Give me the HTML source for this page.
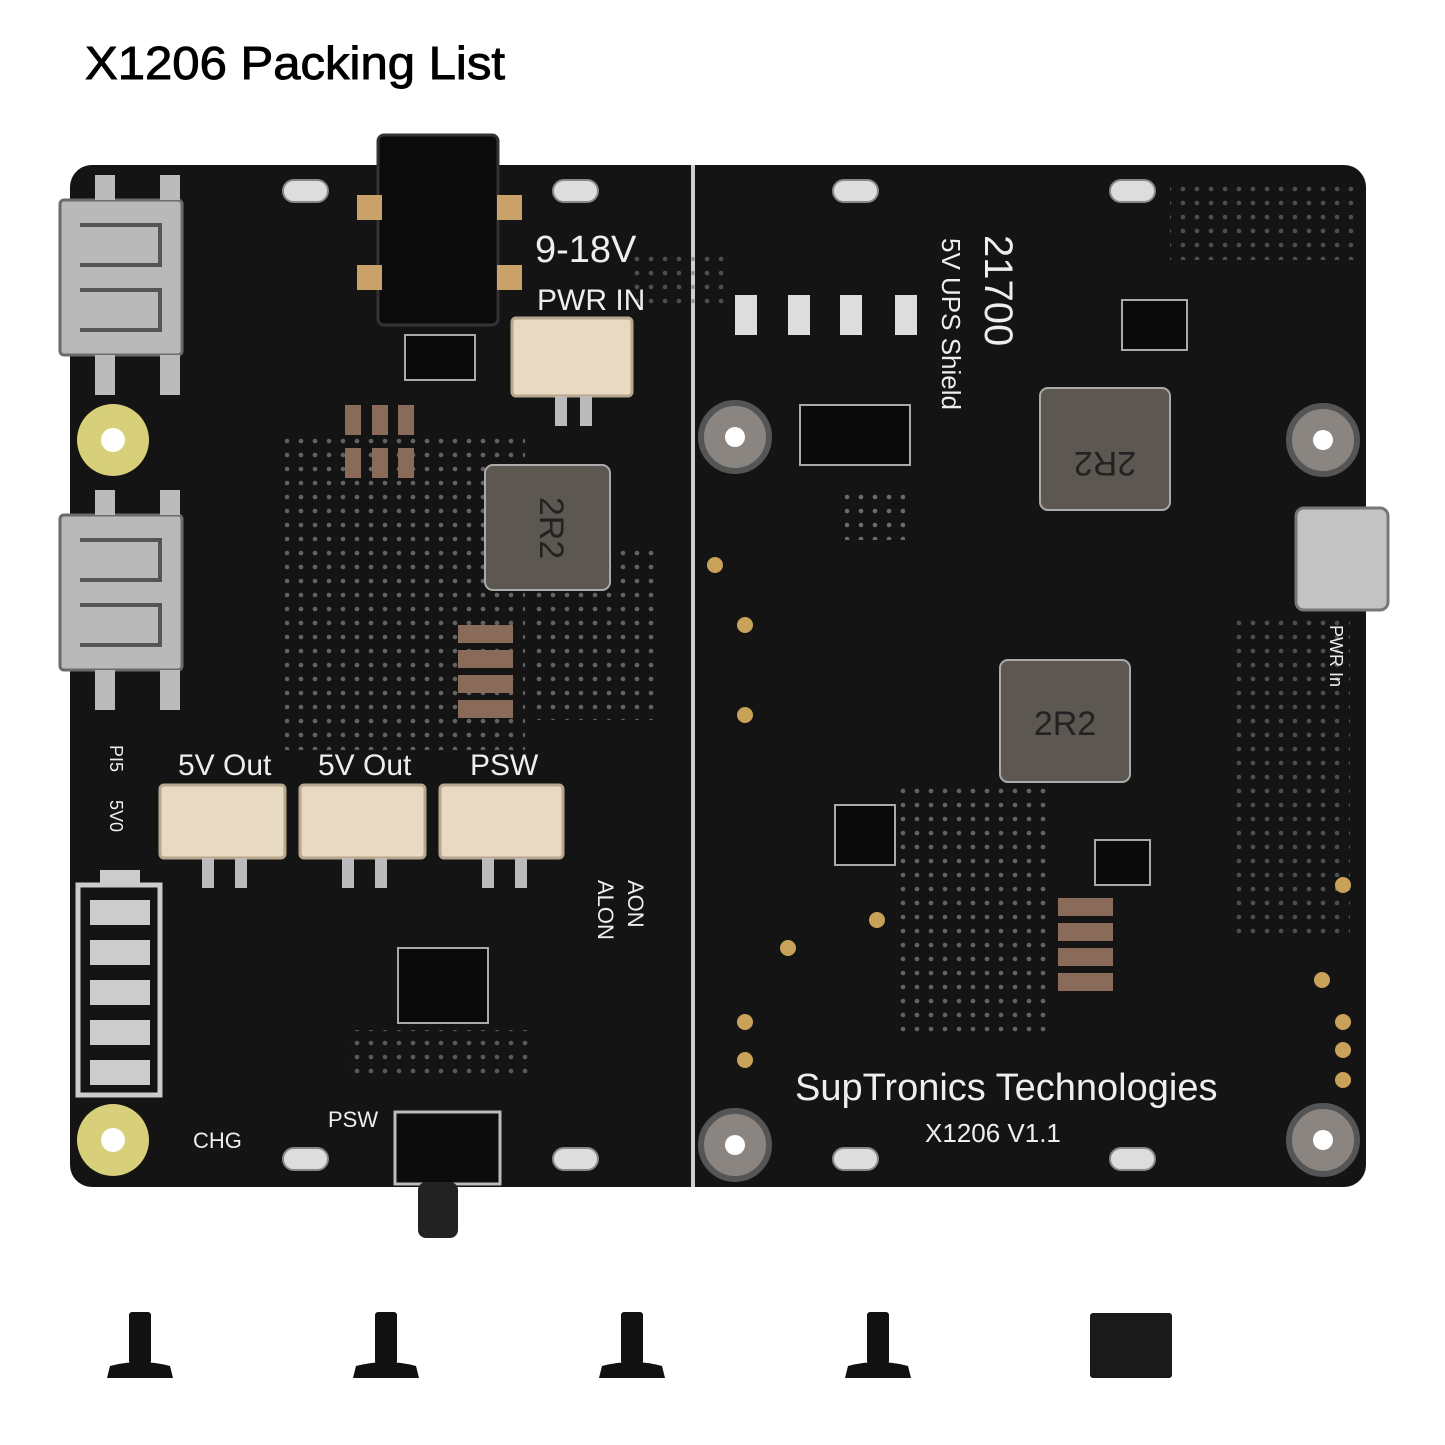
<!DOCTYPE html>
<html><head><meta charset="utf-8"><style>
html,body{margin:0;padding:0;background:#fff;}
svg{display:block}
</style></head><body>
<svg width="1445" height="1445" viewBox="0 0 1445 1445" xmlns="http://www.w3.org/2000/svg">
<rect width="1445" height="1445" fill="#fff"/>
<text x="85" y="79" font-family="Liberation Sans, sans-serif" font-size="46" fill="#000" stroke="#000" stroke-width="0.9" textLength="420" lengthAdjust="spacingAndGlyphs">X1206 Packing List</text>
<rect x="70" y="165" width="1296" height="1022" rx="22" fill="#141414"/>
<line x1="693" y1="165" x2="693" y2="1187" stroke="#cfcfcf" stroke-width="4"/>
<defs>
<pattern id="dots" width="14" height="14" patternUnits="userSpaceOnUse"><circle cx="7" cy="7" r="2.3" fill="#777"/></pattern>
</defs>
<rect x="285" y="430" width="240" height="320" fill="url(#dots)" opacity=".8"/>
<rect x="530" y="550" width="130" height="170" fill="url(#dots)" opacity=".8"/>
<rect x="900" y="780" width="150" height="260" fill="url(#dots)" opacity=".8"/>
<rect x="1170" y="180" width="190" height="80" fill="url(#dots)" opacity=".6"/>
<rect x="1230" y="620" width="120" height="320" fill="url(#dots)" opacity=".6"/>
<rect x="345" y="1030" width="190" height="45" fill="url(#dots)" opacity=".7"/>
<rect x="630" y="250" width="100" height="60" fill="url(#dots)" opacity=".6"/>
<rect x="845" y="490" width="60" height="50" fill="url(#dots)" opacity=".9"/>
<g fill="#ddd" stroke="#888" stroke-width="2">
<rect x="283" y="180" width="45" height="22" rx="11"/><rect x="553" y="180" width="45" height="22" rx="11"/>
<rect x="833" y="180" width="45" height="22" rx="11"/><rect x="1110" y="180" width="45" height="22" rx="11"/>
<rect x="283" y="1148" width="45" height="22" rx="11"/><rect x="553" y="1148" width="45" height="22" rx="11"/>
<rect x="833" y="1148" width="45" height="22" rx="11"/><rect x="1110" y="1148" width="45" height="22" rx="11"/>
</g>
<rect x="378" y="135" width="120" height="190" rx="6" fill="#0b0b0b" stroke="#333" stroke-width="3"/>
<g fill="#c9a26a"><rect x="357" y="195" width="25" height="25"/><rect x="497" y="195" width="25" height="25"/><rect x="357" y="265" width="25" height="25"/><rect x="497" y="265" width="25" height="25"/></g>
<g fill="#b9b9b9" stroke="#6b6b6b" stroke-width="3">
<rect x="60" y="200" width="122" height="155" rx="4"/>
<rect x="60" y="515" width="122" height="155" rx="4"/>
</g>
<g fill="none" stroke="#555" stroke-width="4">
<path d="M80 225 h80 v40 h-80 M80 290 h80 v40 h-80"/>
<path d="M80 540 h80 v40 h-80 M80 605 h80 v40 h-80"/>
</g>
<g fill="#bbb"><rect x="95" y="175" width="20" height="25"/><rect x="160" y="175" width="20" height="25"/><rect x="95" y="355" width="20" height="40"/><rect x="160" y="355" width="20" height="40"/>
<rect x="95" y="490" width="20" height="25"/><rect x="160" y="490" width="20" height="25"/><rect x="95" y="670" width="20" height="40"/><rect x="160" y="670" width="20" height="40"/></g>
<circle cx="113" cy="440" r="36" fill="#d8cf7a"/><circle cx="113" cy="440" r="12" fill="#fff"/>
<circle cx="113" cy="1140" r="36" fill="#d8cf7a"/><circle cx="113" cy="1140" r="12" fill="#fff"/>
<g fill="#8a8580" stroke="#555" stroke-width="6">
<circle cx="735" cy="437" r="34"/><circle cx="1323" cy="440" r="34"/><circle cx="735" cy="1145" r="34"/><circle cx="1323" cy="1140" r="34"/>
</g>
<g fill="#fff"><circle cx="735" cy="437" r="10"/><circle cx="1323" cy="440" r="10"/><circle cx="735" cy="1145" r="10"/><circle cx="1323" cy="1140" r="10"/></g>
<g fill="#5d5752" stroke="#aaa" stroke-width="2">
<rect x="485" y="465" width="125" height="125" rx="8"/>
<rect x="1040" y="388" width="130" height="122" rx="8"/>
<rect x="1000" y="660" width="130" height="122" rx="8"/>
</g>
<g font-family="Liberation Sans, sans-serif" font-size="34" fill="#222" text-anchor="middle">
<text transform="translate(540,528) rotate(90)">2R2</text>
<text transform="translate(1105,452) rotate(180)">2R2</text>
<text x="1065" y="735">2R2</text>
</g>
<g fill="#e8d9c3" stroke="#b8a78e" stroke-width="3">
<rect x="512" y="318" width="120" height="78" rx="4"/>
<rect x="160" y="785" width="125" height="73" rx="4"/>
<rect x="300" y="785" width="125" height="73" rx="4"/>
<rect x="440" y="785" width="123" height="73" rx="4"/>
</g>
<g fill="#bbb"><rect x="202" y="858" width="12" height="30"/><rect x="235" y="858" width="12" height="30"/><rect x="342" y="858" width="12" height="30"/><rect x="375" y="858" width="12" height="30"/><rect x="482" y="858" width="12" height="30"/><rect x="515" y="858" width="12" height="30"/><rect x="555" y="396" width="12" height="30"/><rect x="580" y="396" width="12" height="30"/></g>
<g fill="#8a6b5a"><rect x="458" y="625" width="55" height="18"/><rect x="458" y="650" width="55" height="18"/><rect x="458" y="675" width="55" height="18"/><rect x="458" y="700" width="55" height="18"/>
<rect x="1058" y="898" width="55" height="18"/><rect x="1058" y="923" width="55" height="18"/><rect x="1058" y="948" width="55" height="18"/><rect x="1058" y="973" width="55" height="18"/>
<rect x="345" y="405" width="16" height="30"/><rect x="372" y="405" width="16" height="30"/><rect x="398" y="405" width="16" height="30"/>
<rect x="345" y="448" width="16" height="30"/><rect x="372" y="448" width="16" height="30"/><rect x="398" y="448" width="16" height="30"/></g>
<g fill="#ddd"><rect x="735" y="295" width="22" height="40"/><rect x="788" y="295" width="22" height="40"/><rect x="840" y="295" width="22" height="40"/><rect x="895" y="295" width="22" height="40"/></g>
<g fill="#0a0a0a" stroke="#aaa" stroke-width="2">
<rect x="800" y="405" width="110" height="60"/>
<rect x="398" y="948" width="90" height="75"/>
<rect x="1122" y="300" width="65" height="50"/>
<rect x="835" y="805" width="60" height="60"/>
<rect x="405" y="335" width="70" height="45"/>
<rect x="1095" y="840" width="55" height="45"/>
</g>
<rect x="1296" y="508" width="92" height="102" rx="8" fill="#c3c3c3" stroke="#777" stroke-width="3"/>
<g fill="none" stroke="#ccc" stroke-width="5"><rect x="78" y="885" width="82" height="210"/></g>
<g fill="#ccc"><rect x="90" y="900" width="60" height="25"/><rect x="90" y="940" width="60" height="25"/><rect x="90" y="980" width="60" height="25"/><rect x="90" y="1020" width="60" height="25"/><rect x="90" y="1060" width="60" height="25"/><rect x="100" y="870" width="40" height="15"/></g>
<rect x="395" y="1112" width="105" height="72" fill="#0c0c0c" stroke="#bbb" stroke-width="3"/>
<rect x="418" y="1182" width="40" height="56" rx="8" fill="#222"/>
<g fill="#c9a25a"><circle cx="715" cy="565" r="8"/><circle cx="745" cy="625" r="8"/><circle cx="745" cy="715" r="8"/><circle cx="877" cy="920" r="8"/><circle cx="788" cy="948" r="8"/><circle cx="745" cy="1022" r="8"/><circle cx="745" cy="1060" r="8"/><circle cx="1343" cy="885" r="8"/><circle cx="1322" cy="980" r="8"/><circle cx="1343" cy="1022" r="8"/><circle cx="1343" cy="1050" r="8"/><circle cx="1343" cy="1080" r="8"/></g>
<g font-family="Liberation Sans, sans-serif" fill="#eee">
<text x="535" y="262" font-size="38">9-18V</text>
<text x="537" y="310" font-size="30">PWR IN</text>
<text x="178" y="775" font-size="30">5V Out</text>
<text x="318" y="775" font-size="30">5V Out</text>
<text x="470" y="775" font-size="30">PSW</text>
<text x="193" y="1148" font-size="22">CHG</text>
<text x="328" y="1127" font-size="22">PSW</text>
<text x="795" y="1100" font-size="38">SupTronics Technologies</text>
<text x="925" y="1142" font-size="26">X1206  V1.1</text>
<text transform="translate(985,235) rotate(90)" font-size="40">21700</text>
<text transform="translate(942,238) rotate(90)" font-size="26">5V UPS Shield</text>
<text transform="translate(1330,625) rotate(90)" font-size="18">PWR In</text>
<text transform="translate(628,880) rotate(90)" font-size="22">AON</text>
<text transform="translate(598,880) rotate(90)" font-size="22">ALON</text>
<text transform="translate(110,745) rotate(90)" font-size="18">PI5</text>
<text transform="translate(110,800) rotate(90)" font-size="18">5V0</text>
</g>
<g fill="#111">
<g transform="translate(140,0)"><rect x="-11" y="1312" width="22" height="52" rx="3"/><path d="M-33 1378 L-30 1366 Q0 1358 30 1366 L33 1378 Z"/></g>
<g transform="translate(386,0)"><rect x="-11" y="1312" width="22" height="52" rx="3"/><path d="M-33 1378 L-30 1366 Q0 1358 30 1366 L33 1378 Z"/></g>
<g transform="translate(632,0)"><rect x="-11" y="1312" width="22" height="52" rx="3"/><path d="M-33 1378 L-30 1366 Q0 1358 30 1366 L33 1378 Z"/></g>
<g transform="translate(878,0)"><rect x="-11" y="1312" width="22" height="52" rx="3"/><path d="M-33 1378 L-30 1366 Q0 1358 30 1366 L33 1378 Z"/></g>
<rect x="1090" y="1313" width="82" height="65" rx="3" fill="#1a1a1a"/>
</g>
</svg>
</body></html>
